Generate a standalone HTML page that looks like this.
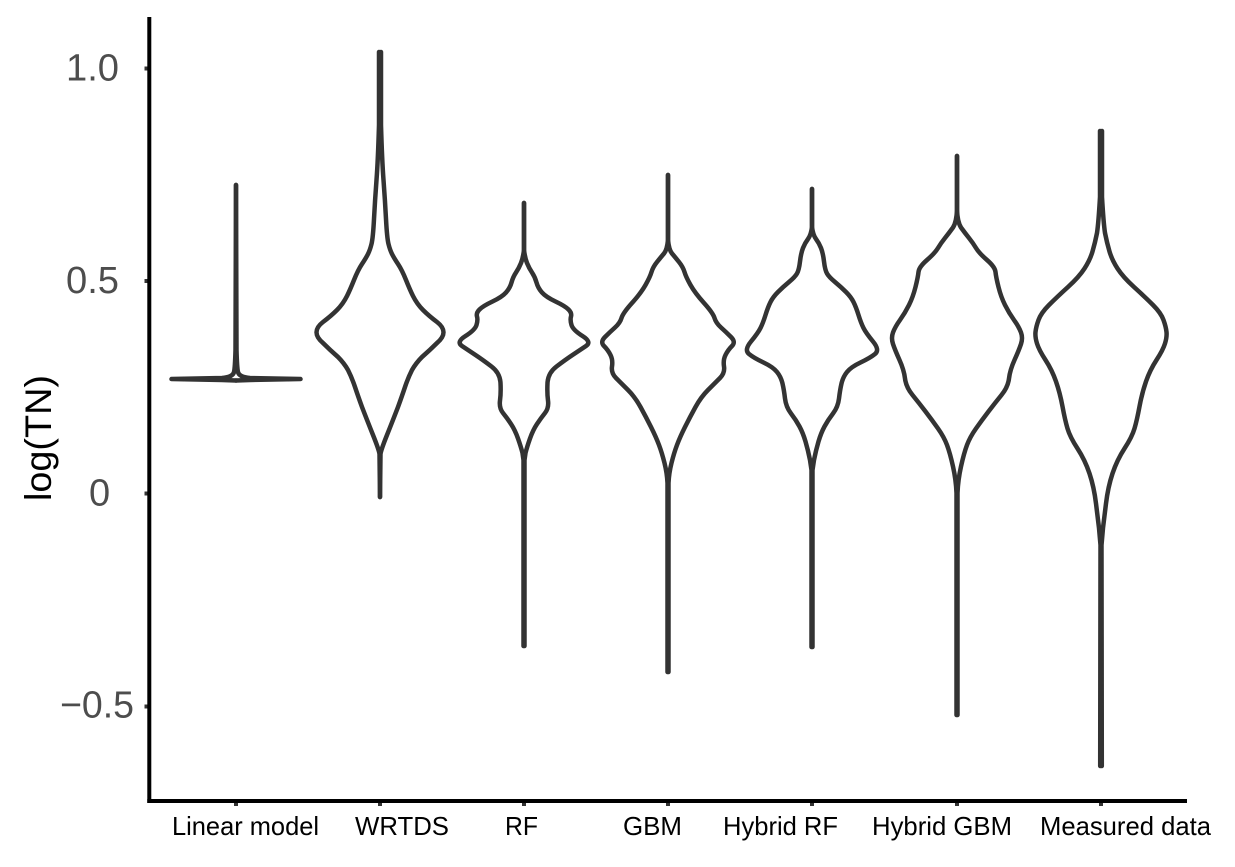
<!DOCTYPE html>
<html>
<head>
<meta charset="utf-8">
<style>
html,body{margin:0;padding:0;background:#fff;}
svg{display:block;}
.t{font-family:"Liberation Sans",sans-serif;font-size:38px;fill:#4d4d4d;}
.x{font-family:"Liberation Sans",sans-serif;font-size:26px;fill:#000;}
.v path,.v use{fill:none;stroke:#333;stroke-width:4.5;stroke-linecap:round;stroke-linejoin:round;}
</style>
</head>
<body>
<svg width="1235" height="867" viewBox="0 0 1235 867" xmlns="http://www.w3.org/2000/svg">
<rect width="1235" height="867" fill="#fff"/>

<!-- ticks -->
<g stroke="#333" stroke-width="4" fill="none">
<path d="M144.500 68.500H149M144.500 281H149M144.500 493.500H149M144.500 706.500H149"/>
<path d="M236 801V806M380 801V806M524 801V806M668 801V806M812 801V806M957 801V806M1101 801V806"/>
</g>
<!-- axes -->
<g stroke="#000" stroke-width="4" fill="none">
<path d="M149.300 17V803"/>
<path d="M147.300 801H1187"/>
</g>

<!-- violins -->
<g class="v">
<g transform="translate(236,0)"><path id="a" d="M0 185 L.5 350 Q1 368 2 372 Q3 377 14 378 L64.500 379 L14 380 L0 380.500"/><use href="#a" transform="scale(-1,1)"/></g>
<g transform="translate(380,0)"><path id="b" d="M1 52 L1 125 Q2 160 3.500 180 Q5 200 6 219 Q7 238 8.500 244 Q10 250 12 254 Q14 258 18 264 Q22 270 26 280 Q30 290 33 296 Q37 304 43 310 Q49 316 57 322 Q70 332 57 343 Q50 350 42 357 Q36 363 32 370 Q28 378 25 387 Q22 396 18 407 Q13 420 7 435 Q1 450 .5 454 L0 497"/><use href="#b" transform="scale(-1,1)"/></g>
<g transform="translate(524,0)"><path id="c" d="M0 203 L0 250 Q1 258 3 263 Q5 268 8 272.500 Q11 277 12.500 282.500 Q14 288 18 292.500 Q22 297 31.500 301.500 Q41 306 44.500 309.500 Q48 313 47 316.500 Q46 320 47.500 325 Q49 330 58.500 336 Q68 342 62 346 Q56 350 48.500 355 Q41 360 32.500 366.500 Q24 373 23.500 383 Q23 393 24 400.500 Q25 408 21 413 Q17 418 13 424 Q9 430 6 438.500 Q3 447 1.500 453 L.5 460 L.5 646"/><use href="#c" transform="scale(-1,1)"/></g>
<g transform="translate(668,0)"><path id="d" d="M0 175 L0 240 Q1 250 4 253.500 Q7 257 11 262 Q15 267 16.500 272 Q18 277 22.500 285 Q27 293 36 303 Q45 313 46.500 318 Q48 323 53 327.500 Q58 332 63 337 Q68 342 64 346 Q60 350 57.500 355 Q55 360 56 366.500 Q57 373 52 378 Q47 383 40 390 Q33 397 27.500 407 Q22 417 17 427 Q12 437 9 445 Q6 453 3.500 463 Q1 473 .5 483 L.5 672"/><use href="#d" transform="scale(-1,1)"/></g>
<g transform="translate(812,0)"><path id="e" d="M0 189 L0 227 Q1 235 4 239 Q7 243 9 248 Q11 253 12 261.500 Q13 270 15 273.500 Q17 277 23 282 Q29 287 34 292 Q39 297 41.500 302 Q44 307 46.500 315 Q49 323 51.500 328 Q54 333 61 341.500 Q68 350 63 354 Q58 358 48.500 362.500 Q39 367 35 372 Q31 377 29.500 383.500 Q28 390 27 398.500 Q26 407 21 413.500 Q16 420 12.500 426.500 Q9 433 6.500 441.500 Q4 450 2 460 L.5 470 L.5 647"/><use href="#e" transform="scale(-1,1)"/></g>
<g transform="translate(957,0)"><path id="f" d="M0 156 L0 210 Q.5 222 4 227.500 Q8 233 12 238 Q16 243 19 248 Q22 253 30 260 Q38 267 38.500 272 Q39 277 41.500 287 Q44 297 48 305 Q52 313 57 320 Q62 327 64 332.500 Q66 338 64 344 Q62 350 57.500 360 Q53 370 52 378.500 Q51 387 44.500 395 Q38 403 31.500 411.500 Q25 420 19 428.500 Q13 437 10 445 Q7 453 4 466.500 Q1 480 .5 493 L.5 715"/><use href="#f" transform="scale(-1,1)"/></g>
<g transform="translate(1101,0)"><path id="g" d="M1 131 L1 197 Q2.500 223 4 233 Q6 243 8.500 251.500 Q11 260 16.500 268.500 Q22 277 33 287 Q44 297 52 305 Q60 313 62.500 320 Q65 327 65.500 332 Q66 337 64 343.500 Q62 350 55.500 360 Q49 370 45 381.500 Q41 393 38.500 406.500 Q36 420 33.500 428.500 Q31 437 23.500 448.500 Q16 460 11.500 473.500 Q7 487 5 503.500 Q3 520 2 528 L.5 545 L.8 766"/><use href="#g" transform="scale(-1,1)"/></g>
</g>

<!-- y tick labels -->
<text class="t" x="66" y="80.500" textLength="53" lengthAdjust="spacingAndGlyphs">1.0</text>
<text class="t" x="66" y="293" textLength="53" lengthAdjust="spacingAndGlyphs">0.5</text>
<text class="t" x="89" y="505.500">0</text>
<text class="t" x="60" y="717.500" textLength="74" lengthAdjust="spacingAndGlyphs">−0.5</text>

<!-- y axis title -->
<text transform="translate(51,501) rotate(-90)" font-family="'Liberation Sans',sans-serif" font-size="37.5" fill="#000" textLength="126" lengthAdjust="spacingAndGlyphs">log(TN)</text>

<!-- x labels -->
<text class="x" x="172" y="835" textLength="147" lengthAdjust="spacingAndGlyphs">Linear model</text>
<text class="x" x="355" y="835" textLength="94" lengthAdjust="spacingAndGlyphs">WRTDS</text>
<text class="x" x="505" y="835" textLength="33" lengthAdjust="spacingAndGlyphs">RF</text>
<text class="x" x="623" y="835" textLength="59" lengthAdjust="spacingAndGlyphs">GBM</text>
<text class="x" x="723" y="835" textLength="115" lengthAdjust="spacingAndGlyphs">Hybrid RF</text>
<text class="x" x="872" y="835" textLength="140" lengthAdjust="spacingAndGlyphs">Hybrid GBM</text>
<text class="x" x="1040" y="835" textLength="171" lengthAdjust="spacingAndGlyphs">Measured data</text>
</svg>
</body>
</html>
